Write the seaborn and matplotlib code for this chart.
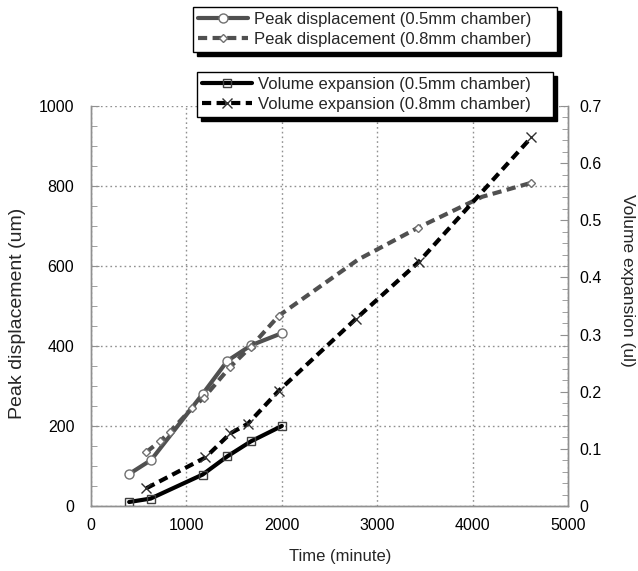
import numpy as np
import pandas as pd
import matplotlib
matplotlib.use("Agg")
import matplotlib.pyplot as plt
import seaborn as sns
from matplotlib.ticker import MultipleLocator

# data
t_peak_05 = [400, 630, 1170, 1430, 1680, 2000]
peak_05 = [80, 115, 280, 363, 402, 432]

t_peak_08 = [580, 725, 830, 1060, 1180, 1460, 1675, 1970, 2800, 3430, 4100, 4615]
peak_08 = [135, 162, 186, 245, 270, 348, 398, 476, 616, 696, 773, 808]
peak_08_marked = [0, 1, 2, 3, 4, 5, 6, 7, 9, 11]

t_vol_05 = [400, 625, 1170, 1430, 1675, 2000]
vol_05 = [0.007, 0.013, 0.055, 0.087, 0.113, 0.14]

t_vol_08 = [580, 1200, 1460, 1645, 1970, 2780, 3435, 4615]
vol_08 = [0.031, 0.085, 0.127, 0.144, 0.202, 0.328, 0.427, 0.645]

labels = ["Peak displacement (0.5mm chamber)", "Peak displacement (0.8mm chamber)",
          "Volume expansion (0.5mm chamber)", "Volume expansion (0.8mm chamber)"]

sns.set_style("white")
plt.rcParams['font.family'] = ['Liberation Sans', 'DejaVu Sans']

W, H = 638, 571
fig = plt.figure(figsize=(W / 100, H / 100), dpi=100)
ax = fig.add_axes([91 / W, 1 - 506 / H, 477 / W, 400 / H])
ax2 = ax.twinx()

gray = "#505050"
sns.lineplot(x=t_peak_05, y=peak_05, ax=ax, sort=False, color=gray, lw=3,
             marker="o", ms=6.5, mfc="white", mec="#707070", mew=1, label=labels[0])
sns.lineplot(x=t_peak_08, y=peak_08, ax=ax, sort=False, color=gray, lw=3,
             linestyle=(0, (2.2, 1.3)), marker="D", ms=4, mfc="white", mec="#707070", mew=1,
             markevery=peak_08_marked, label=labels[1])
sns.lineplot(x=t_vol_05, y=vol_05, ax=ax2, sort=False, color="black", lw=3,
             marker="s", ms=6, mfc="none", mec="#404040", mew=1, label=labels[2])
sns.lineplot(x=t_vol_08, y=vol_08, ax=ax2, sort=False, color="black", lw=3,
             linestyle=(0, (2.2, 1.3)), marker="x", ms=6.5, mec="#303030", mew=1, label=labels[3])

ax.set_xlim(0, 5000)
ax.set_ylim(0, 1000)
ax2.set_ylim(0, 0.7)

ax.xaxis.set_major_locator(MultipleLocator(1000))
ax.xaxis.set_minor_locator(MultipleLocator(200))
ax.yaxis.set_major_locator(MultipleLocator(200))
ax.yaxis.set_minor_locator(MultipleLocator(50))
ax2.yaxis.set_major_locator(MultipleLocator(0.1))
ax2.yaxis.set_minor_locator(MultipleLocator(0.02))
ax2.set_yticks(np.arange(0, 0.71, 0.1))
ax2.set_yticklabels(["0" if v == 0 else f"{v:.1f}" for v in np.arange(0, 0.71, 0.1)])

ax.grid(True, which="major", color="#909090", linestyle=(0, (1.2, 2.2)), lw=1)
ax.set_axisbelow(True)

for a in (ax, ax2):
    a.spines["top"].set_visible(False)
    for s in ("left", "right", "bottom"):
        a.spines[s].set_color("#909090")
        a.spines[s].set_linewidth(1)
    a.tick_params(which="both", direction="in", colors="#909090", labelcolor="black",
                  labelsize=11.5)
    a.tick_params(which="major", length=6)
    a.tick_params(which="minor", length=4)
ax.tick_params(axis="x", pad=9)
ax.tick_params(axis="y", pad=12)
ax2.tick_params(axis="y", pad=8)

# axis titles placed in pixel terms
fig.text(340 / W, 1 - 556 / H, "Time (minute)", ha="center", va="center", fontsize=12)
fig.text(18 / W, 1 - 313 / H, "Peak displacement (um)", ha="center", va="center",
         rotation=90, fontsize=14)
fig.text(627 / W, 1 - 280 / H, "Volume expansion (ul)", ha="center", va="center",
         rotation=-90, fontsize=12.5)

h1, l1 = ax.get_legend_handles_labels()
h2, l2 = ax2.get_legend_handles_labels()
ax.get_legend().remove()
ax2.get_legend().remove()

shadow = {"color": "black", "alpha": 1, "ox": 3, "oy": -3}
common = dict(loc="upper left", mode="expand", fancybox=False, framealpha=1,
              edgecolor="black", fontsize=12, handlelength=3, handletextpad=0.35,
              borderpad=0.3, labelspacing=0.3, borderaxespad=0, shadow=shadow)
leg1 = fig.legend(h1, l1, bbox_to_anchor=(193 / W, 1 - 60 / H, 364 / W, 53 / H), **common)
leg2 = fig.legend(h2, l2, bbox_to_anchor=(197 / W, 1 - 127 / H, 356 / W, 55 / H), **common)
for lg in (leg1, leg2):
    lg.get_frame().set_linewidth(1)

fig.savefig("out.png", dpi=100)
